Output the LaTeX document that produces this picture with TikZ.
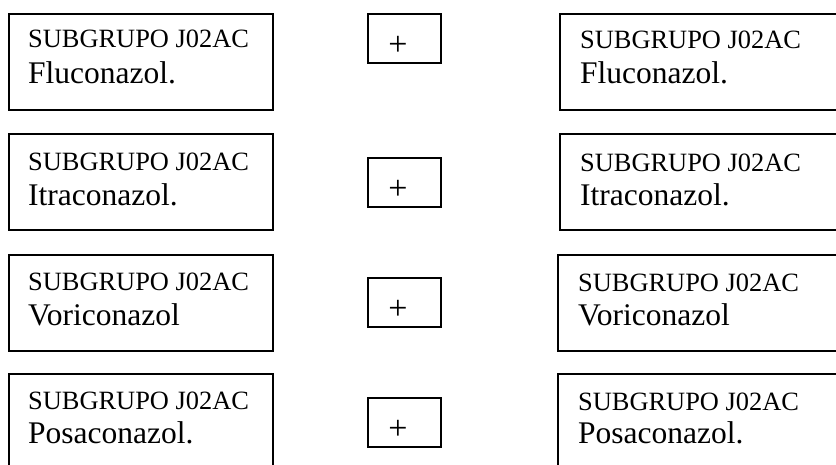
\documentclass[tikz,border=0pt]{standalone}
\usepackage{fontspec}
\setmainfont{Liberation Serif}
\begin{document}
\begin{tikzpicture}[x=1pt,y=-1pt,
  box/.style={draw,line width=2pt,rectangle,inner sep=0pt,anchor=north west,
              minimum width=264pt,minimum height=96pt},
  rbox/.style={box,minimum width=300pt},
  plusbox/.style={draw,line width=2pt,rectangle,inner sep=0pt,anchor=north west,
              minimum width=73pt,minimum height=49pt},
  codetxt/.style={anchor=base west,inner sep=0pt,font=\fontsize{26.4}{30}\selectfont},
  drugtxt/.style={anchor=base west,inner sep=0pt,font=\fontsize{31.5}{36}\selectfont},
  plussign/.style={inner sep=0pt,font=\fontsize{34}{38}\selectfont}]
\useasboundingbox (0,0) rectangle (836,464);
\clip (0,0) rectangle (836,464);
% one row per drug: top of side boxes, top of the "+" box, left edge of right box,
% baseline offsets of the two lines
\foreach \i/\top/\ptop/\rx/\ba/\bb/\drug in {
    1/13/13/559/34/70/Fluconazol.,
    2/133/157/559/37/72/Itraconazol.,
    3/254/277/557/36/71/Voriconazol,
    4/373/397/557/36/70/Posaconazol.}{
  \node[box] (L\i) at (8,\top) {};
  \node[codetxt] (Lc\i) at (28,\top+\ba) {SUBGRUPO J02AC};
  \node[drugtxt] (Ld\i) at (28,\top+\bb) {\drug};
  \node[plusbox] (P\i) at (367,\ptop) {};
  \node[plussign] (Ps\i) at ([shift={(-6.5pt,-7.5pt)}]P\i.center) {+};
  \node[rbox] (R\i) at (\rx,\top) {};
  \node[codetxt] (Rc\i) at (\rx+21,\top+\ba+1) {SUBGRUPO J02AC};
  \node[drugtxt] (Rd\i) at (\rx+21,\top+\bb) {\drug};
}
\end{tikzpicture}
\end{document}
